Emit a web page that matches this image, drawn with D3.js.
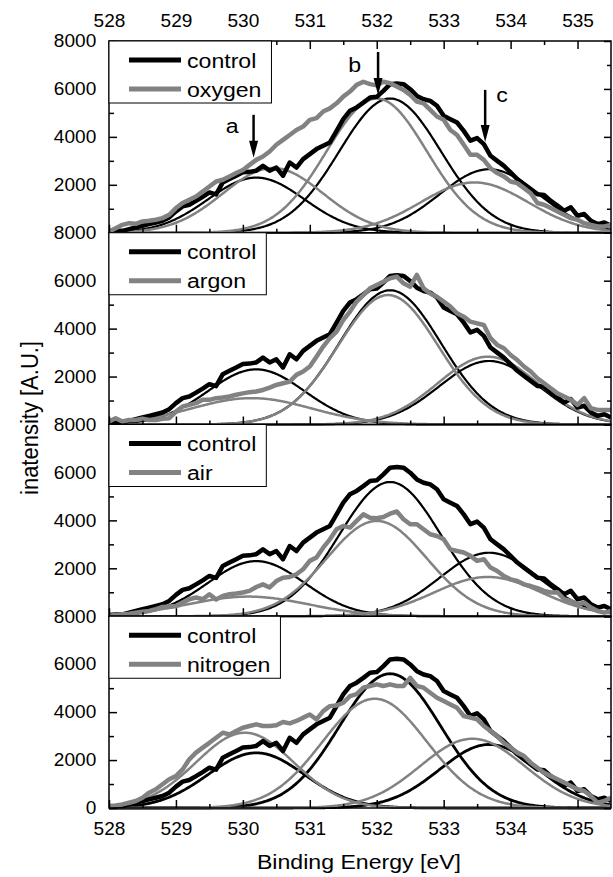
<!DOCTYPE html>
<html>
<head>
<meta charset="utf-8">
<script src="https://cdn.jsdelivr.net/npm/d3@7"></script>
<style>
  body { margin: 0; background: #fff; }
  svg text { font-family: "Liberation Sans", Arial, sans-serif; fill: #000; }
</style>
</head>
<body>
<svg id="chart" width="613" height="877"></svg>
<script>
// Binding energy grid of the measured spectra (eV)
const energy = [
  528.0, 528.1, 528.2, 528.3, 528.4, 528.5, 528.6, 528.7, 528.8, 528.9,
  529.0, 529.1, 529.2, 529.3, 529.4, 529.5, 529.6, 529.7, 529.8, 529.9,
  530.0, 530.1, 530.2, 530.3, 530.4, 530.5, 530.6, 530.7, 530.8, 530.9,
  531.0, 531.1, 531.2, 531.3, 531.4, 531.5, 531.6, 531.7, 531.8, 531.9,
  532.0, 532.1, 532.2, 532.3, 532.4, 532.5, 532.6, 532.7, 532.8, 532.9,
  533.0, 533.1, 533.2, 533.3, 533.4, 533.5, 533.6, 533.7, 533.8, 533.9,
  534.0, 534.1, 534.2, 534.3, 534.4, 534.5, 534.6, 534.7, 534.8, 534.9,
  535.0, 535.1, 535.2, 535.3, 535.4, 535.5
];

// Intensities (A.U.)
const control = [
  50, 70, 80, 150, 220, 290, 360, 430, 500, 640,
  890, 1100, 1170, 1330, 1500, 1680, 1600, 2100, 2240, 2380,
  2520, 2540, 2590, 2790, 2590, 2720, 2380, 2930, 2720, 3070,
  3280, 3490, 3630, 3770, 4250, 4740, 5090, 5230, 5430, 5640,
  5670, 5920, 6200, 6230, 6200, 5990, 5710, 5570, 5500, 5300,
  4880, 4740, 4600, 4250, 3840, 3950, 3700, 3210, 3000, 2790,
  2520, 2240, 2030, 1820, 1610, 1580, 1330, 1130, 920, 1060,
  710, 780, 500, 360, 430, 290
];
const oxygen = [
  50, 190, 330, 400, 375, 470, 500, 540, 610, 750,
  1030, 1240, 1375, 1510, 1720, 1930, 2140, 2210, 2350, 2490,
  2620, 2830, 3040, 3180, 3390, 3670, 3875, 4080, 4290, 4430,
  4710, 4780, 5060, 5190, 5400, 5680, 5890, 6170, 6300, 6200,
  6150, 6300, 6240, 6100, 5960, 5750, 5470, 5400, 5125, 4850,
  4710, 4290, 4080, 3670, 3250, 3250, 3040, 2690, 2490, 2350,
  2140, 2070, 1860, 1650, 1240, 1170, 1030, 890, 750, 610,
  540, 400, 330, 260, 260, 330
];
const argon = [
  125, 260, 125, 190, 190, 240, 190, 190, 240, 260,
  540, 750, 820, 890, 1030, 1030, 1100, 1125, 1170, 1240,
  1300, 1350, 1375, 1440, 1540, 1650, 1720, 1790, 2070, 2210,
  2420, 2830, 3250, 3600, 3875, 4360, 4710, 5130, 5400, 5680,
  5820, 5960, 6100, 6170, 5890, 5750, 6240, 5680, 5470, 5330,
  5130, 4920, 4640, 4500, 4290, 4220, 4150, 3600, 3320, 3180,
  2900, 2690, 2420, 2210, 1930, 1720, 1510, 1300, 1170, 1030,
  820, 1100, 680, 610, 610, 610
];
const air = [
  20, 50, 80, 110, 150, 190, 220, 300, 390, 410,
  430, 570, 710, 780, 710, 920, 700, 850, 920, 950,
  990, 1060, 1220, 1330, 1200, 1470, 1610, 1640, 1750, 1960,
  2310, 2450, 2860, 3210, 3630, 3770, 3700, 3980, 4250, 4110,
  4090, 4140, 4280, 4370, 4050, 3840, 3840, 3630, 3420, 3350,
  3210, 2790, 2720, 2660, 2520, 2310, 2380, 2030, 1890, 1680,
  1540, 1470, 1330, 1260, 1170, 1060, 990, 1000, 710, 640,
  500, 570, 360, 220, 150, 220
];
const nitrogen = [
  80, 110, 150, 220, 290, 430, 640, 780, 990, 1200,
  1330, 1610, 2030, 2310, 2520, 2720, 2930, 3140, 3070, 3210,
  3350, 3420, 3490, 3420, 3420, 3450, 3590, 3530, 3630, 3770,
  3900, 3700, 4040, 4250, 4280, 4390, 4670, 4750, 5020, 5090,
  5160, 5090, 5160, 5090, 5090, 5430, 5090, 5020, 4810, 4600,
  4460, 4320, 4180, 3840, 3770, 3700, 3420, 3210, 3000, 2720,
  2520, 2310, 2170, 1890, 1680, 1470, 1330, 1200, 1060, 920,
  780, 710, 500, 220, 290, 430
];

// Fitted peak components a, b, c: [centre eV, height, sigma eV]
const controlPeaks = [[530.2, 2300, 0.72], [532.2, 5600, 0.76], [533.68, 2650, 0.74]];
const oxygenPeaks = [[530.45, 2700, 0.75], [532.0, 5600, 0.75], [533.46, 2100, 0.8]];
const argonPeaks = [[530.13, 1100, 0.9], [532.17, 5400, 0.75], [533.66, 2830, 0.75]];
const airPeaks = [[530.08, 820, 0.9], [532.0, 3975, 0.75], [533.66, 1640, 0.8]];
const nitrogenPeaks = [[530.03, 3140, 0.73], [531.97, 4560, 0.78], [533.43, 2890, 0.78]];

const treatments = ['oxygen', 'argon', 'air', 'nitrogen'];
const treatedSpectra = [oxygen, argon, air, nitrogen];
const treatedPeaks = [oxygenPeaks, argonPeaks, airPeaks, nitrogenPeaks];

// Ticks
const xTicks = [528, 529, 530, 531, 532, 533, 534, 535];
const xMinorTicks = [528.5, 529.5, 530.5, 531.5, 532.5, 533.5, 534.5];
const yTicks = [0, 2000, 4000, 6000, 8000];
const yMinorTicks = [1000, 3000, 5000, 7000];

// Peak arrows in the top panel: label, energy, arrow top, arrow tip, label energy, label value
const arrowLabels = ['a', 'b', 'c'];
const arrowEnergy = [530.16, 532.02, 533.62];
const arrowTop = [4920, 7540, 5960];
const arrowTip = [3125, 5750, 3790];
const arrowLabelEnergy = [529.84, 531.67, 533.87];
const arrowLabelValue = [4375, 7000, 5750];

// Layout
const CONFIG = {
  left: 109,
  right: 611,
  top: 41,
  panelHeight: 191.75,
  gray: '#828282',
  fontTick: 18,
  fontLabel: 21
};

const svg = d3.select('#chart');
const x = d3.scaleLinear().domain([528, 535.5]).range([CONFIG.left, CONFIG.right]);
const gauss = (p, e) => p[1] * Math.exp(-((e - p[0]) ** 2) / (2 * p[2] * p[2]));
const fine = d3.range(528, 535.5001, 0.02);

const defs = svg.append('defs');

function styleAxis(g, fontSize) {
  g.attr('font-size', fontSize)
    .attr('font-family', '"Liberation Sans", Arial, sans-serif');
  g.select('.domain').remove();
  g.selectAll('line').attr('stroke', '#000').attr('stroke-width', 1.5);
  g.selectAll('text').attr('transform', 'scale(1.06,1)');
}

treatments.forEach((name, i) => {
  const top = CONFIG.top + i * CONFIG.panelHeight;
  const bottom = top + CONFIG.panelHeight;
  const y = d3.scaleLinear().domain([0, 8000]).range([bottom, top]);
  const line = d3.line().x(d => x(d[0])).y(d => y(d[1]));

  defs.append('clipPath').attr('id', `clip${i}`)
    .append('rect')
    .attr('x', CONFIG.left).attr('y', top - 4)
    .attr('width', CONFIG.right - CONFIG.left).attr('height', CONFIG.panelHeight + 8);

  const panel = svg.append('g').attr('class', `panel panel--${name}`);
  const plot = panel.append('g').attr('clip-path', `url(#clip${i})`);

  // fitted components
  controlPeaks.forEach(p => {
    plot.append('path')
      .datum(fine.map(e => [e, gauss(p, e)]))
      .attr('d', line)
      .attr('fill', 'none')
      .attr('stroke', '#000')
      .attr('stroke-width', i === 3 ? 2.8 : 2.2);
  });
  treatedPeaks[i].forEach(p => {
    plot.append('path')
      .datum(fine.map(e => [e, gauss(p, e)]))
      .attr('d', line)
      .attr('fill', 'none')
      .attr('stroke', CONFIG.gray)
      .attr('stroke-width', 2.5);
  });

  // measured spectra
  plot.append('path')
    .datum(energy.map((e, k) => [e, control[k]]))
    .attr('d', line)
    .attr('fill', 'none')
    .attr('stroke', '#000')
    .attr('stroke-width', 4.5)
    .attr('stroke-linejoin', 'round');
  plot.append('path')
    .datum(energy.map((e, k) => [e, treatedSpectra[i][k]]))
    .attr('d', line)
    .attr('fill', 'none')
    .attr('stroke', CONFIG.gray)
    .attr('stroke-width', 4.5)
    .attr('stroke-linejoin', 'round');

  // frame
  panel.append('rect')
    .attr('x', CONFIG.left).attr('y', top)
    .attr('width', CONFIG.right - CONFIG.left).attr('height', CONFIG.panelHeight)
    .attr('fill', 'none')
    .attr('stroke', '#000')
    .attr('stroke-width', 1.5);

  // bottom ticks (inward), labels only on the last panel
  panel.append('g')
    .attr('transform', `translate(0,${bottom})`)
    .call(d3.axisBottom(x).tickValues(xTicks).tickSize(-8).tickSizeOuter(0).tickPadding(14)
      .tickFormat(i === 3 ? d3.format('d') : ''))
    .call(g => styleAxis(g, CONFIG.fontTick));
  panel.append('g')
    .attr('transform', `translate(0,${bottom})`)
    .call(d3.axisBottom(x).tickValues(xMinorTicks).tickSize(-4).tickSizeOuter(0).tickFormat(''))
    .call(g => styleAxis(g, CONFIG.fontTick));

  // top ticks on the first panel
  if (i === 0) {
    panel.append('g')
      .attr('transform', `translate(0,${top})`)
      .call(d3.axisTop(x).tickValues(xTicks).tickSize(-8).tickSizeOuter(0).tickPadding(14)
        .tickFormat(d3.format('d')))
      .call(g => styleAxis(g, CONFIG.fontTick));
    panel.append('g')
      .attr('transform', `translate(0,${top})`)
      .call(d3.axisTop(x).tickValues(xMinorTicks).tickSize(-4).tickSizeOuter(0).tickFormat(''))
      .call(g => styleAxis(g, CONFIG.fontTick));
  }

  // left and right ticks; a panel's 0 sits under the next panel's 8000
  panel.append('g')
    .attr('transform', `translate(${CONFIG.left},0)`)
    .call(d3.axisLeft(y).tickValues(yTicks).tickSize(-8).tickSizeOuter(0).tickPadding(12)
      .tickFormat(d => (d === 0 && i < 3) ? '' : d3.format('d')(d)))
    .call(g => styleAxis(g, CONFIG.fontTick));
  panel.append('g')
    .attr('transform', `translate(${CONFIG.left},0)`)
    .call(d3.axisLeft(y).tickValues(yMinorTicks).tickSize(-5).tickSizeOuter(0).tickFormat(''))
    .call(g => styleAxis(g, CONFIG.fontTick));
  panel.append('g')
    .attr('transform', `translate(${CONFIG.right},0)`)
    .call(d3.axisRight(y).tickValues(yTicks).tickSize(-7).tickSizeOuter(0).tickFormat(''))
    .call(g => styleAxis(g, CONFIG.fontTick));
  panel.append('g')
    .attr('transform', `translate(${CONFIG.right},0)`)
    .call(d3.axisRight(y).tickValues(yMinorTicks).tickSize(-4).tickSizeOuter(0).tickFormat(''))
    .call(g => styleAxis(g, CONFIG.fontTick));

  // legend
  const legend = panel.append('g').attr('class', 'legend');
  const box = legend.append('rect')
    .attr('x', CONFIG.left).attr('y', top)
    .attr('height', 62)
    .attr('fill', '#fff')
    .attr('stroke', '#000')
    .attr('stroke-width', 1);
  const entries = [['control', '#000'], [name, CONFIG.gray]];
  let textEnd = 0;
  entries.forEach(([label, color], k) => {
    const ly = top + 19 + k * 29;
    legend.append('line')
      .attr('x1', 129).attr('x2', 181)
      .attr('y1', ly).attr('y2', ly)
      .attr('stroke', color)
      .attr('stroke-width', 5);
    const t = legend.append('text')
      .attr('transform', `translate(187,${ly + 7.5}) scale(1.1,1)`)
      .attr('font-size', CONFIG.fontLabel)
      .text(label);
    textEnd = Math.max(textEnd, 187 + t.node().getComputedTextLength() * 1.1);
  });
  box.attr('width', textEnd + 10 - CONFIG.left);

  // peak arrows
  if (i === 0) {
    arrowLabels.forEach((label, k) => {
      const ax = x(arrowEnergy[k]);
      const tipY = y(arrowTip[k]);
      panel.append('line')
        .attr('x1', ax).attr('x2', ax)
        .attr('y1', y(arrowTop[k])).attr('y2', tipY - 10)
        .attr('stroke', '#000')
        .attr('stroke-width', 2.5);
      panel.append('path')
        .attr('d', `M${ax - 4.5},${tipY - 17}L${ax + 4.5},${tipY - 17}L${ax},${tipY}Z`)
        .attr('fill', '#000');
      panel.append('text')
        .attr('transform', `translate(${x(arrowLabelEnergy[k])},${y(arrowLabelValue[k]) + (label === 'a' ? 5.5 : 7.5)}) scale(1.1,1)`)
        .attr('text-anchor', 'middle')
        .attr('font-size', CONFIG.fontLabel)
        .text(label);
    });
  }
});

// axis titles
svg.append('text')
  .attr('transform', 'translate(359,869) scale(1.1,1)')
  .attr('text-anchor', 'middle')
  .attr('font-size', CONFIG.fontLabel)
  .text('Binding Energy [eV]');
svg.append('text')
  .attr('transform', 'translate(38,418) rotate(-90) scale(1,1.1)')
  .attr('text-anchor', 'middle')
  .attr('font-size', 22)
  .text('inatensity [A.U.]');
</script>
</body>
</html>
